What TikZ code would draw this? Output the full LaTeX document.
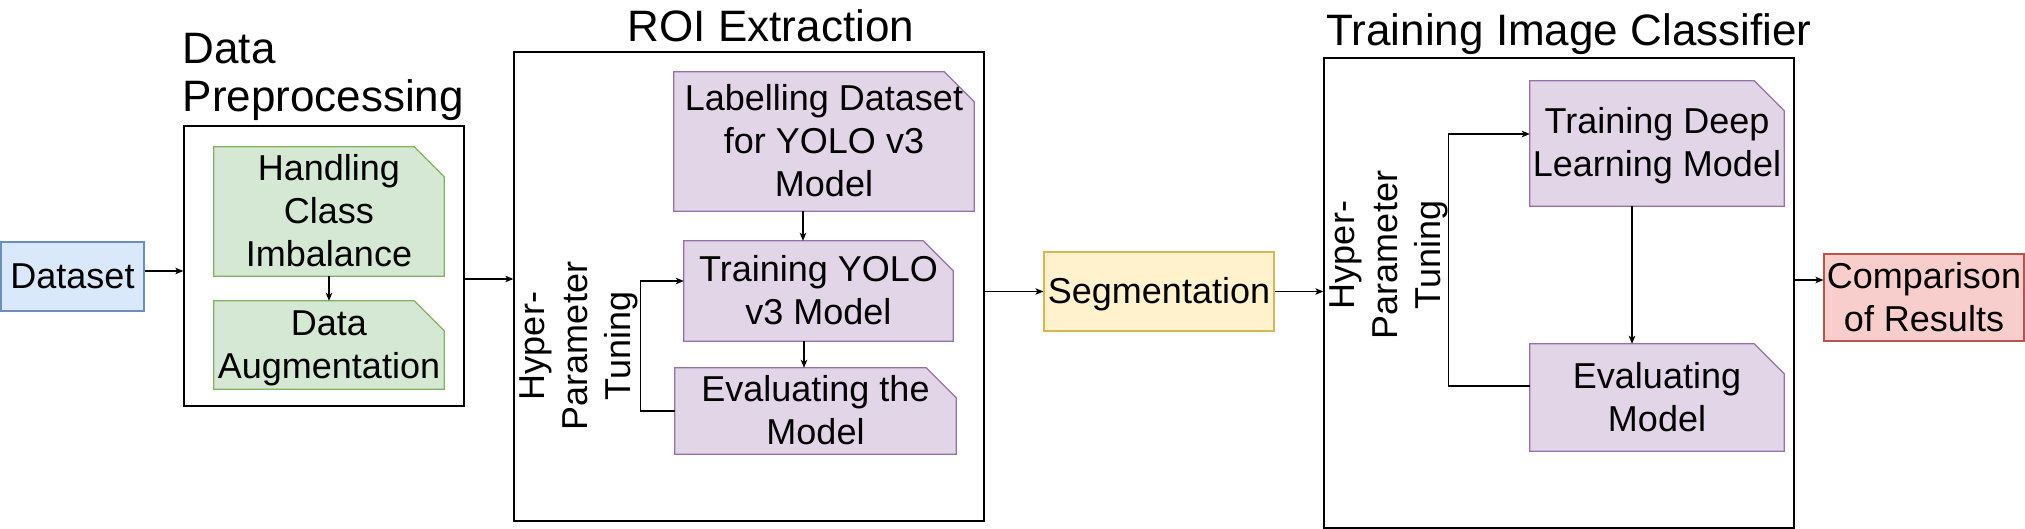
\documentclass[tikz,border=0pt]{standalone}
\usepackage{fontspec}
\setmainfont{Liberation Sans}
\usetikzlibrary{arrows.meta,calc}
\pgfdeclarelayer{bg}
\pgfsetlayers{bg,main}
\definecolor{bluef}{HTML}{DAE8FC}\definecolor{bluel}{HTML}{6C8EBF}
\definecolor{greenf}{HTML}{D5E8D4}\definecolor{greenl}{HTML}{82B366}
\definecolor{purpf}{HTML}{E1D5E7}\definecolor{purpl}{HTML}{9673A6}
\definecolor{yellf}{HTML}{FFF2CC}\definecolor{yelll}{HTML}{D6B656}
\definecolor{redf}{HTML}{F8CECC}\definecolor{redl}{HTML}{B85450}
\newcommand\ls{\rule[-9.5pt]{0pt}{43pt}}
\begin{document}
\begin{tikzpicture}[x=1pt,y=-1pt,
  txt/.style={font=\fontsize{36}{43}\selectfont, align=center, inner sep=0pt},
  ttl/.style={font=\fontsize{44}{48}\selectfont, inner sep=0pt},
  container/.style={draw=black, line width=1.3pt, inner sep=0pt},
  plainbox/.style={txt, line width=1.2pt},
  cardbox/.style={txt},
  arr/.style={-{Stealth[length=8pt,width=6.5pt,inset=2pt]}, line width=1.1pt}
]
\useasboundingbox (0,0) rectangle (2025,529);

% titles
\node[ttl, anchor=north west, align=left] (t1) at (182.5,33.5) {Data\\Preprocessing};
\node[ttl, anchor=base] (t2) at (771,42) {ROI Extraction};
\node[ttl, anchor=base] (t3) at (1569,46) {Training Image Classifier};

% nodes
\node[plainbox, draw=bluel, fill=bluef, minimum width=143pt, minimum height=69pt] (dataset) at (72.5,276.5) {\ls Dataset};
\node[container, minimum width=280pt, minimum height=280pt] (pre) at (324,266) {};
\node[cardbox, minimum width=230pt, minimum height=119pt] (hand) at (329,211.5) {\ls Handling\\\ls Class\\\ls Imbalance};
\node[cardbox, minimum width=230pt, minimum height=88pt] (aug) at (329,345) {\ls Data\\\ls Augmentation};

\node[container, minimum width=470pt, minimum height=469pt] (roi) at (749,286.5) {};
\node[cardbox, minimum width=300pt, minimum height=139pt] (lab) at (824,141.5) {\ls Labelling Dataset\\\ls for YOLO v3\\\ls Model};
\node[cardbox, minimum width=269pt, minimum height=100pt] (ty) at (818.5,291) {\ls Training YOLO\\\ls v3 Model};
\node[cardbox, minimum width=281pt, minimum height=80pt] (ety) at (815.5,411) {\ls Evaluating the\\\ls Model};
\node[txt, rotate=90] (hp1) at (575,346) {\ls Hyper-\\\ls Parameter\\\ls Tuning};

\node[plainbox, draw=yelll, fill=yellf, minimum width=230pt, minimum height=79pt] (seg) at (1159,291.5) {\ls Segmentation};

\node[container, minimum width=470pt, minimum height=470pt] (tic) at (1559,293) {};
\node[cardbox, minimum width=254pt, minimum height=125pt] (tdl) at (1657,143.5) {\ls Training Deep\\\ls Learning Model};
\node[cardbox, minimum width=254pt, minimum height=107pt] (em) at (1657,397.5) {\ls Evaluating\\\ls Model};
\node[txt, rotate=90] (hp2) at (1385,255) {\ls Hyper-\\\ls Parameter\\\ls Tuning};

\node[plainbox, draw=redl, fill=redf, minimum width=200pt, minimum height=87pt] (cmp) at (1924,297.5) {\ls Comparison\\\ls of Results};

% card shapes behind text
\begin{pgfonlayer}{bg}
\foreach \n/\f/\l in {hand/greenf/greenl, aug/greenf/greenl, lab/purpf/purpl, ty/purpf/purpl, ety/purpf/purpl, tdl/purpf/purpl, em/purpf/purpl}
  \draw[fill=\f, draw=\l, line width=1.2pt, line join=miter]
    (\n.north west) -- ([xshift=-30pt]\n.north east) -- ([yshift=-30pt]\n.north east)
    -- (\n.south east) -- (\n.south west) -- cycle;
\end{pgfonlayer}

% connectors
\draw[arr] ([yshift=5.5pt]dataset.east) -- ([yshift=5.5pt]dataset.east -| pre.west);
\draw[arr] (hand.south) -- (aug.north);
\draw[arr] ([yshift=-13pt]pre.east) -- ([yshift=-13pt]pre.east -| roi.west);
\draw[arr] ([xshift=-21pt]lab.south) -- ([xshift=-21pt]lab.south |- ty.north);
\draw[arr] ([xshift=-14.5pt]ty.south) -- ([xshift=-14.5pt]ty.south |- ety.north);
\draw[arr] (ety.west) -- ++(-34,0) |- ([yshift=10pt]ty.west);
\draw[arr] (roi.east |- seg.west) -- (seg.west);
\draw[arr] (seg.east) -- (seg.east -| tic.west);
\draw[arr] ([xshift=-25pt]tdl.south) -- ([xshift=-25pt]tdl.south |- em.north);
\draw[arr] ([yshift=11.5pt]em.west) -- ++(-81,0) |- ([yshift=9.5pt]tdl.west);
\draw[arr] ([yshift=13pt]tic.east) -- ([yshift=13pt]tic.east -| cmp.west);
\end{tikzpicture}
\end{document}
